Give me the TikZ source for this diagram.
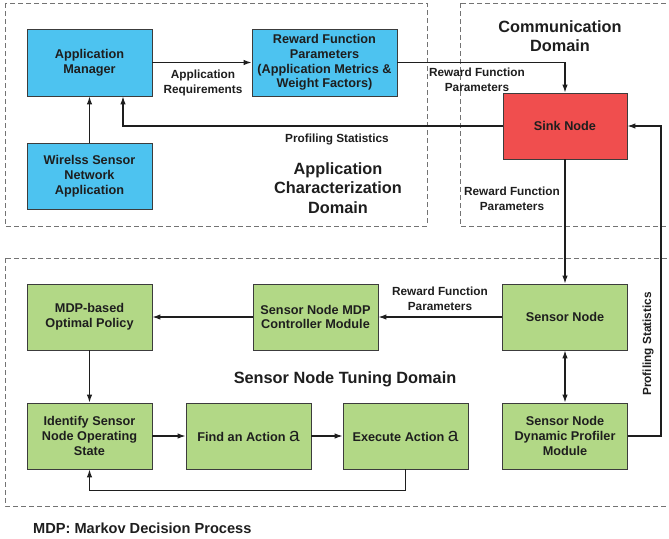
\documentclass[tikz,border=0pt]{standalone}
\usepackage{fontspec}
\setmainfont{Liberation Sans}
\usetikzlibrary{arrows.meta,calc}
\definecolor{appblue}{RGB}{77,195,240}
\definecolor{sinkred}{RGB}{240,78,78}
\definecolor{tunegreen}{RGB}{178,216,134}
\definecolor{boxline}{RGB}{60,60,60}
\definecolor{ink}{RGB}{30,30,30}
\definecolor{dashgray}{RGB}{115,115,115}
\begin{document}
\begin{tikzpicture}[x=1pt,y=-1pt,
  box/.style={draw=boxline, line width=0.9pt, inner sep=0pt, align=center,
    font=\bfseries\fontsize{12.7}{14.8}\selectfont, text=ink},
  bluebox/.style={box, fill=appblue},
  redbox/.style={box, fill=sinkred},
  greenbox/.style={box, fill=tunegreen},
  conn/.style={line width=1.1pt, draw=ink, -{Latex[length=8pt,width=5.5pt]}},
  lbl/.style={font=\bfseries\fontsize{11.8}{14.5}\selectfont, align=center, inner sep=0pt, text=ink},
  domlabel/.style={font=\bfseries\fontsize{16.3}{19.5}\selectfont, align=center, inner sep=0pt, text=ink},
  domframe/.style={draw=dashgray, dash pattern=on 5pt off 3pt, line width=0.9pt}]
\useasboundingbox (0,0) rectangle (669,538);
\clip (0,0) rectangle (669,538);

% domain frames
\draw[domframe] (5,3) rectangle (427,226);
\draw[domframe] (460,3) rectangle (672,226);
\draw[domframe] (5,258) rectangle (672,506);

% application characterization domain
\node[bluebox, minimum width=125pt, minimum height=67pt] (am) at (89.5,62.5) {Application\\Manager};
\node[bluebox, minimum width=145pt, minimum height=67pt] (rfp) at (324.5,62.5) {Reward Function\\Parameters\\(Application Metrics \&\\Weight Factors)};
\node[bluebox, minimum width=125pt, minimum height=66pt] (wsn) at (89.5,176) {Wirelss Sensor\\Network\\Application};

% communication domain
\node[redbox, minimum width=124pt, minimum height=66pt] (sink) at (565,126) {Sink Node};

% sensor node tuning domain
\node[greenbox, minimum width=125pt, minimum height=66pt] (pol) at (89.5,317) {MDP-based\\Optimal Policy};
\node[greenbox, minimum width=125pt, minimum height=66pt] (ctrl) at (315.5,317) {Sensor Node MDP\\Controller Module};
\node[greenbox, minimum width=125pt, minimum height=66pt] (sn) at (565,317) {Sensor Node};
\node[greenbox, minimum width=125pt, minimum height=66pt] (id) at (89.5,436) {Identify Sensor\\Node Operating\\State};
\node[greenbox, minimum width=125pt, minimum height=66pt] (find) at (248.5,436) {Find an Action {\mdseries\fontsize{19}{15}\selectfont a}};
\node[greenbox, minimum width=125pt, minimum height=66pt] (ex) at (405.5,436) {Execute Action {\mdseries\fontsize{19}{15}\selectfont a}};
\node[greenbox, minimum width=125pt, minimum height=66pt] (dp) at (565,436) {Sensor Node\\Dynamic Profiler\\Module};

% connectors
\draw[conn] (am.east) -- (rfp.west);
\draw[conn] (rfp.east) -| (sink.north);
\draw[conn] (sink.west) -| ([xshift=33.5pt]am.south);
\draw[conn] (wsn.north) -- (am.south);
\draw[conn] (sink.south) -- (sn.north);
\draw[conn] (dp.east) -- ++(33,0) |- (sink.east);
\draw[line width=1.1pt, draw=ink, {Latex[length=8pt,width=5.5pt]}-{Latex[length=8pt,width=5.5pt]}] (sn.south) -- (dp.north);
\draw[conn] (sn.west) -- (ctrl.east);
\draw[conn] (ctrl.west) -- (pol.east);
\draw[conn] (pol.south) -- (id.north);
\draw[conn] (id.east) -- (find.west);
\draw[conn] (find.east) -- (ex.west);
\draw[conn] (ex.south) -- ++(0,21) -| (id.south);

% connector labels
\node[lbl] (lreq) at (203,83) {Application\\Requirements};
\node[lbl] (lrfp1) at (477,80) {Reward Function\\Parameters};
\node[lbl] (lprof1) at (337,139) {Profiling Statistics};
\node[lbl] (lrfp2) at (512,199) {Reward Function\\Parameters};
\node[lbl] (lrfp3) at (440,299) {Reward Function\\Parameters};
\node[lbl, rotate=90] (lprof2) at (648,344) {Profiling Statistics};

% domain titles
\node[domlabel] (tapp) at (338,188) {Application\\Characterization\\Domain};
\node[domlabel] (tcom) at (560,36) {Communication\\Domain};
\node[domlabel] (ttun) at (345,379) {Sensor Node Tuning Domain};

% footnote
\node[anchor=west, inner sep=0pt, text=ink, font=\bfseries\fontsize{14.6}{17}\selectfont] (note) at (33,528) {MDP: Markov Decision Process};
\end{tikzpicture}
\end{document}
